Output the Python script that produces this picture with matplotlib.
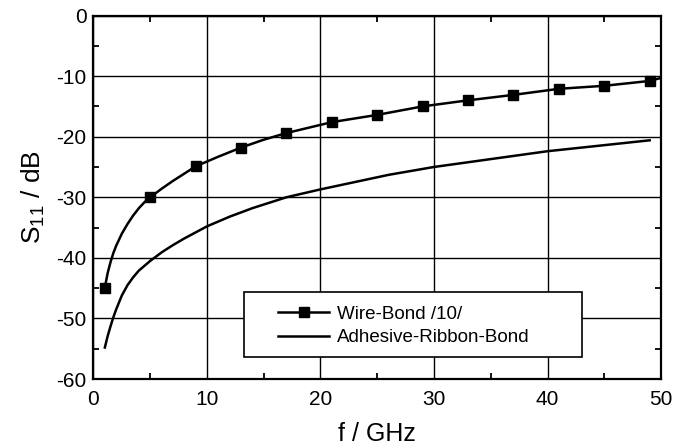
import matplotlib.pyplot as plt
from matplotlib.patches import Rectangle
from matplotlib.lines import Line2D
from matplotlib.ticker import MultipleLocator

plt.rcParams['font.family'] = ['Liberation Sans', 'DejaVu Sans']
plt.rcParams['axes.unicode_minus'] = False
plt.rcParams['mathtext.fontset'] = 'custom'
plt.rcParams['mathtext.rm'] = 'Liberation Sans'
plt.rcParams['mathtext.it'] = 'Liberation Sans'

# Wire-Bond /10/ : measured points (markers)
wire_f = [1, 5, 9, 13, 17, 21, 25, 29, 33, 37, 41, 45, 49]
wire_s = [-44.9, -30.0, -24.9, -21.8, -19.4, -17.6, -16.4, -15.0, -14.0, -13.1, -12.1, -11.6, -10.8]
# Wire-Bond curve
wire_line_f = [1, 1.25, 1.5, 1.75, 2, 2.5, 3, 3.5, 4, 4.5, 5, 6, 7, 8, 9, 11, 13, 15, 17, 21, 25, 29, 33, 37, 41, 45, 49, 50]
wire_line_s = [-44.9, -42.5, -40.7, -39.2, -38.0, -36.0, -34.4, -33.0, -31.8, -30.8, -30.0, -28.6, -27.3, -26.1,
               -24.9, -23.3, -21.8, -20.5, -19.4, -17.6, -16.4, -15.0, -14.0, -13.1, -12.1, -11.6, -10.8, -10.3]

# Adhesive-Ribbon-Bond
rib_f = [1, 1.25, 1.5, 1.75, 2, 2.5, 3, 3.5, 4, 5, 6, 7, 8, 10, 12, 14, 17, 20, 23, 26, 30, 35, 40, 45, 49]
rib_s = [-54.8, -52.9, -51.3, -49.8, -48.5, -46.2, -44.5, -43.2, -42.1, -40.5, -39.1, -37.9, -36.8, -34.8, -33.2,
         -31.8, -30.0, -28.7, -27.5, -26.3, -25.0, -23.7, -22.4, -21.4, -20.6]

labels = ['Wire-Bond /10/', 'Adhesive-Ribbon-Bond']

fig = plt.figure(figsize=(6.91, 4.47), dpi=100)
ax = fig.add_axes([0.1353, 0.1521, 0.8213, 0.8132])

ax.plot(wire_line_f, wire_line_s, color='black', lw=1.8, zorder=3)
ax.plot(wire_f, wire_s, 's', color='black', ms=6.5, zorder=3)
ax.plot(rib_f, rib_s, color='black', lw=1.8, zorder=3)

ax.set_xlim(0, 50)
ax.set_ylim(-60, 0)
ax.xaxis.set_major_locator(MultipleLocator(10))
ax.xaxis.set_minor_locator(MultipleLocator(5))
ax.yaxis.set_major_locator(MultipleLocator(10))
ax.yaxis.set_minor_locator(MultipleLocator(5))
ax.tick_params(which='both', direction='in', top=True, right=True, labelsize=15)
ax.tick_params(axis='x', pad=8)
ax.tick_params(axis='y', pad=5)
ax.tick_params(which='major', length=0)
ax.tick_params(which='minor', length=4, width=1.3)
ax.grid(True, which='major', color='black', lw=1.0)
for s in ax.spines.values():
    s.set_linewidth(1.6)

ax.set_xlabel('f / GHz', fontsize=18, labelpad=9)
ax.set_ylabel('S$_{11}$ / dB', fontsize=19, labelpad=7)

# legend box
ax.add_patch(Rectangle((0.265, 0.0605), 0.596, 0.1785, transform=ax.transAxes,
                       facecolor='white', edgecolor='black', lw=1.2, zorder=5))
handles = [Line2D([], [], color='black', lw=1.8, marker='s', ms=6.5),
           Line2D([], [], color='black', lw=1.8)]
leg = ax.legend(handles, labels, loc='center left', bbox_to_anchor=(0.325, 0.146),
                frameon=False, fontsize=13.5, handlelength=2.75, handletextpad=0.4,
                borderpad=0, borderaxespad=0, labelspacing=0.35)
leg.set_zorder(6)

fig.savefig('out.png', dpi=100)
